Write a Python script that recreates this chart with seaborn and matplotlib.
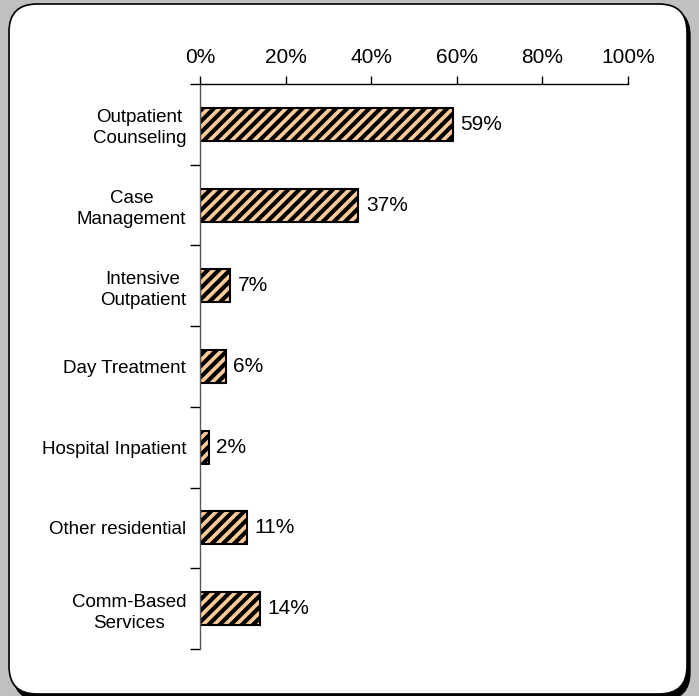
import numpy as np
import pandas as pd
import matplotlib
matplotlib.use("Agg")
import matplotlib.pyplot as plt
from matplotlib.patches import FancyBboxPatch
from matplotlib.ticker import FuncFormatter, FixedLocator
import seaborn as sns

services = ["Outpatient\nCounseling", "Case\nManagement", "Intensive\nOutpatient",
            "Day Treatment", "Hospital Inpatient", "Other residential",
            "Comm-Based\nServices"]
pct = [59, 37, 7, 6, 2, 11, 14]

df = pd.DataFrame({"service": services, "pct": pct})

sns.set_theme(style="white")
plt.rcParams["font.family"] = ["Liberation Sans", "DejaVu Sans"]
plt.rcParams["hatch.linewidth"] = 3.0
plt.rcParams["text.color"] = "black"
plt.rcParams["xtick.color"] = "black"
plt.rcParams["ytick.color"] = "black"

fig = plt.figure(figsize=(6.99, 6.96), dpi=100)
fig.patch.set_facecolor("#C0C0C0")

# rounded panel with shadow
W, H = 699, 696
def fx(px):
    return px / W
def fy(py):
    return 1 - py / H

shadow = FancyBboxPatch((fx(13), fy(700)), fx(677), 692 / H,
                        boxstyle="round,pad=0,rounding_size=0.04",
                        transform=fig.transFigure, facecolor="black",
                        edgecolor="black", zorder=0)
panel = FancyBboxPatch((fx(9), fy(694)), fx(678), 690 / H,
                       boxstyle="round,pad=0,rounding_size=0.04",
                       transform=fig.transFigure, facecolor="white",
                       edgecolor="black", linewidth=1.2, zorder=1)
fig.patches.extend([shadow, panel])

ax = fig.add_axes([fx(200), fy(649), fx(628) - fx(200), fy(84) - fy(649)])
ax.set_facecolor("none")
ax.set_zorder(2)

sns.barplot(data=df, x="pct", y="service", orient="h", color="#FFCC99",
            edgecolor="black", linewidth=1.5, hatch="///", width=0.41,
            saturation=1, ax=ax)

for p, v in zip(ax.patches, pct):
    ax.text(v + 1.8, p.get_y() + p.get_height() / 2, f"{v}%",
            va="center", ha="left", fontsize=15, color="black")

ax.set_xlim(0, 100)
ax.set_ylim(6.5, -0.5)
ax.xaxis.set_major_locator(FixedLocator([0, 20, 40, 60, 80, 100]))
ax.xaxis.set_major_formatter(FuncFormatter(lambda v, _: f"{v:.0f}%"))
ax.xaxis.tick_top()
ax.tick_params(axis="x", which="major", top=True, bottom=False, length=6,
               width=1, colors="black", labelsize=15, pad=6, direction="out")

ax.yaxis.set_minor_locator(FixedLocator(np.arange(-0.5, 7, 1)))
ax.tick_params(axis="y", which="major", left=False, length=0,
               labelsize=13.5, pad=10, colors="black")
ax.tick_params(axis="y", which="minor", left=True, length=7, width=1,
               color="black", direction="out")
for lbl in ax.get_yticklabels():
    lbl.set_multialignment("center")
    lbl.set_linespacing(1.3)

ax.set_xlabel("")
ax.set_ylabel("")
for s in ["bottom", "right"]:
    ax.spines[s].set_visible(False)
ax.spines["top"].set_color("black")
ax.spines["top"].set_linewidth(1)
ax.spines["left"].set_color("#555555")
ax.spines["left"].set_linewidth(1)

fig.savefig("out.png", dpi=100, facecolor=fig.get_facecolor())
